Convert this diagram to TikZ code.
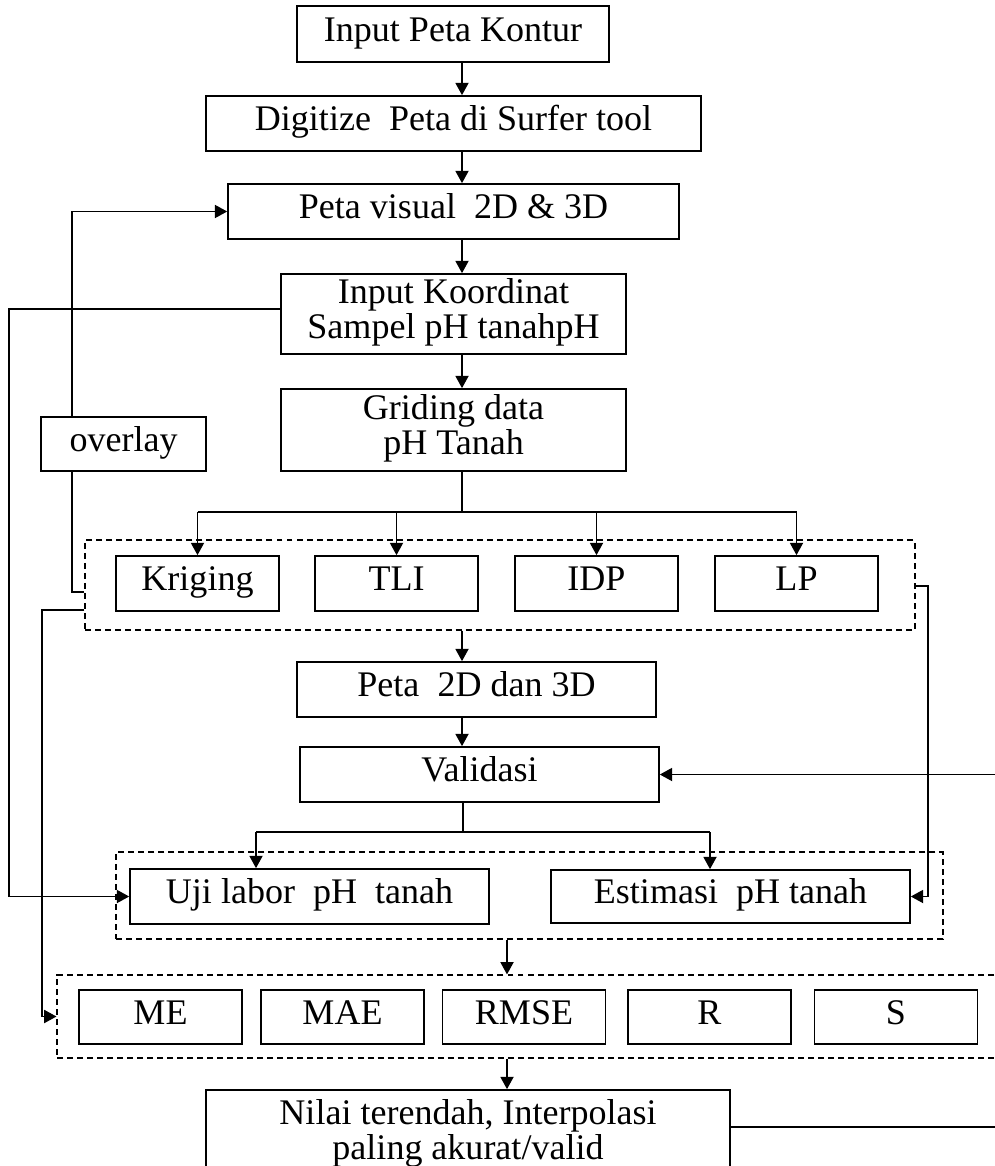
\documentclass[tikz,border=0pt]{standalone}
\usepackage{fontspec}
\setmainfont{Liberation Serif}
\usetikzlibrary{arrows.meta}

\begin{document}
\begin{tikzpicture}[x=0.02cm, y=-0.02cm,
    kotak/.style={draw, line width=1pt, inner sep=0pt, align=center, minimum height=1.1cm, font=\fontsize{20.5}{20}\selectfont, execute at begin node=\rule[-0.3em]{0pt}{1.0em}},
    bingkai/.style={draw, line width=0.7pt, dash pattern=on 3.4pt off 2.3pt, inner sep=0pt},
    panah/.style={line width=0.7pt, -{Triangle[length=7pt, width=7.5pt]}},
    garis/.style={line width=0.7pt}]
    \useasboundingbox (0,0) rectangle (994,1166);

    % alur utama
    \node[kotak, minimum width=6.24cm, minimum height=1.12cm] (kontur) at (453,34) {Input Peta Kontur};
    \node[kotak, minimum width=9.9cm] (digit) at (453.5,123.5) {Digitize\ \ Peta di Surfer tool};
    \node[kotak, minimum width=9.02cm] (visual) at (453.5,211.5) {Peta visual\ \ 2D \& 3D};
    \node[kotak, minimum width=6.9cm, minimum height=1.6cm] (koord) at (453.5,314) {Input Koordinat\\Sampel pH tanahpH};
    \node[kotak, minimum width=6.9cm, minimum height=1.64cm] (grid) at (453.5,430) {Griding data\\pH Tanah};
    \node[kotak, minimum width=3.3cm, minimum height=1.08cm] (overlay) at (123.5,444) {overlay};

    % metode interpolasi
    \node[bingkai, minimum width=16.6cm, minimum height=1.8cm] (grup1) at (500,585) {};
    \node[kotak, minimum width=3.26cm] (kriging) at (197.5,583.5) {Kriging};
    \node[kotak, minimum width=3.26cm] (tli) at (396.5,583.5) {TLI};
    \node[kotak, minimum width=3.26cm] (idp) at (596.5,583.5) {IDP};
    \node[kotak, minimum width=3.26cm] (lp) at (796.5,583.5) {LP};

    \node[kotak, minimum width=7.18cm] (peta2d) at (476.5,689.5) {Peta\ \ 2D dan 3D};
    \node[kotak, minimum width=7.18cm] (validasi) at (479.5,774.5) {Validasi};

    % validasi
    \node[bingkai, minimum width=16.54cm, minimum height=1.74cm] (grup2) at (529.5,895.5) {};
    \node[kotak, minimum width=7.18cm] (uji) at (309.5,896.5) {Uji labor\ \ pH\ \ tanah};
    \node[kotak, minimum width=7.18cm, minimum height=1.06cm] (estimasi) at (730.5,896.5) {Estimasi\ \ pH tanah};

    % uji kesalahan
    \node[bingkai, minimum width=19.06cm, minimum height=1.66cm] (grup3) at (533.5,1016.5) {};
    \node[kotak, minimum width=3.26cm, minimum height=1.08cm] (me) at (160.5,1017) {ME};
    \node[kotak, minimum width=3.26cm, minimum height=1.08cm] (mae) at (342.5,1017) {MAE};
    \node[kotak, minimum width=3.26cm, minimum height=1.08cm] (rmse) at (524,1017) {RMSE};
    \node[kotak, minimum width=3.26cm, minimum height=1.08cm] (r) at (709.5,1017) {R};
    \node[kotak, minimum width=3.26cm, minimum height=1.08cm] (s) at (896,1017) {S};

    \node[kotak, minimum width=10.48cm, minimum height=1.8cm] (nilai) at (468,1135) {Nilai terendah, Interpolasi\\paling akurat/valid};

    % panah utama
    \coordinate (sumbu) at (462,0);
    \draw[panah] (kontur.south -| sumbu) -- (digit.north -| sumbu);
    \draw[panah] (digit.south -| sumbu) -- (visual.north -| sumbu);
    \draw[panah] (visual.south -| sumbu) -- (koord.north -| sumbu);
    \draw[panah] (koord.south -| sumbu) -- (grid.north -| sumbu);

    \coordinate (cabang1) at (462,512);
    \draw[garis] (grid.south -| cabang1) -- (cabang1);
    \draw[garis] (kriging.north |- cabang1) -- (lp.north |- cabang1);
    \draw[panah] (kriging.north |- cabang1) -- (kriging.north);
    \draw[panah] (tli.north |- cabang1) -- (tli.north);
    \draw[panah] (idp.north |- cabang1) -- (idp.north);
    \draw[panah] (lp.north |- cabang1) -- (lp.north);

    \draw[panah] (grup1.south -| sumbu) -- (peta2d.north -| sumbu);
    \draw[panah] (peta2d.south -| sumbu) -- (validasi.north -| sumbu);

    \coordinate (cabang2) at (463,832);
    \coordinate (kiri2) at (256,832);
    \coordinate (kanan2) at (710,832);
    \draw[garis] (validasi.south -| cabang2) -- (cabang2);
    \draw[garis] (kiri2) -- (kanan2);
    \draw[panah] (kiri2) -- (kiri2 |- uji.north);
    \draw[panah] (kanan2) -- (kanan2 |- estimasi.north);

    \coordinate (sumbu2) at (507,0);
    \draw[panah] (grup2.south -| sumbu2) -- (grup3.north -| sumbu2);
    \draw[panah] (grup3.south -| sumbu2) -- (nilai.north -| sumbu2);

    % jalur samping
    \coordinate (ov) at (72,592);
    \draw[garis] (grup1.west |- ov) -- (ov) -- (ov |- overlay.south);
    \draw[panah] (ov |- overlay.north) |- (visual.west);
    \coordinate (ko) at (9,309);
    \draw[panah] (koord.west |- ko) -- (ko) |- (uji.west);
    \coordinate (me1) at (42,610);
    \draw[panah] (grup1.west |- me1) -- (me1) |- (grup3.west);
    \coordinate (lp1) at (928,586);
    \draw[panah] (grup1.east |- lp1) -- (lp1) |- (estimasi.east);
    \coordinate (balik) at (1000,1127);
    \draw[panah] (nilai.east |- balik) -- (balik) |- (validasi.east);
\end{tikzpicture}
\end{document}
